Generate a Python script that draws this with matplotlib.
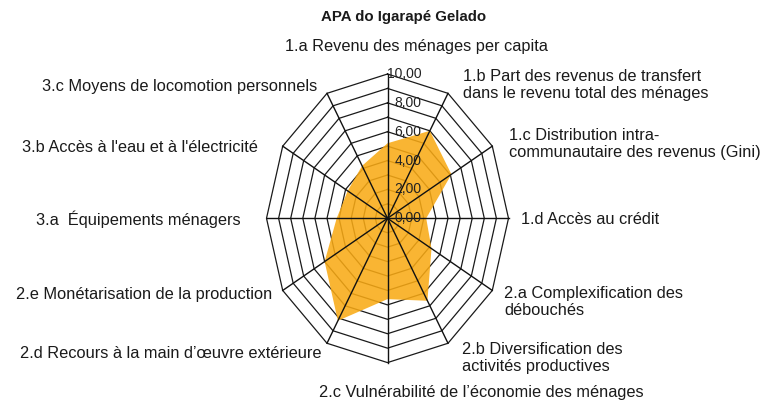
import matplotlib
matplotlib.use("Agg")
import matplotlib.pyplot as plt
import numpy as np

plt.rcParams["font.family"] = ["Liberation Sans", "DejaVu Sans"]

title = "APA do Igarapé Gelado"
labels = [
    "1.a Revenu des ménages per capita",
    "1.b Part des revenus de transfert\ndans le revenu total des ménages",
    "1.c Distribution intra-\ncommunautaire des revenus (Gini)",
    "1.d Accès au crédit",
    "2.a Complexification des\ndébouchés",
    "2.b Diversification des\nactivités productives",
    "2.c Vulnérabilité de l’économie des ménages",
    "2.d Recours à la main d’œuvre extérieure",
    "2.e Monétarisation de la production",
    "3.a  Équipements ménagers",
    "3.b Accès à l'eau et à l'électricité",
    "3.c Moyens de locomotion personnels",
]
values = [5.2, 7.0, 6.1, 3.2, 4.2, 6.6, 5.6, 8.2, 6.0, 4.2, 3.8, 4.2]
ticks = [0, 2, 4, 6, 8, 10]
rmax = 10

# label placement in pixels (x, y from top-left, horizontal alignment)
label_pos = [
    (416, 46, "center"),
    (463, 85, "left"),
    (509, 144, "left"),
    (521, 219, "left"),
    (504, 302, "left"),
    (462, 358, "left"),
    (319, 392, "left"),
    (321, 354, "right"),
    (272, 294, "right"),
    (241, 219, "right"),
    (258, 147, "right"),
    (317, 86, "right"),
]

W, H = 764, 405
cx, cy = 387.5, 218.3      # centre in pixels
sx, sy = 12.1, 14.43       # pixels per unit

fig = plt.figure(figsize=(W / 100, H / 100), dpi=100)
ax = fig.add_axes([0, 0, 1, 1])
ax.set_xlim(-cx / sx, (W - cx) / sx)
ax.set_ylim(-(H - cy) / sy, cy / sy)
ax.axis("off")

n = len(values)
theta = 2 * np.pi * np.arange(n) / n
ux, uy = np.sin(theta), np.cos(theta)

# rings
for k in range(1, rmax + 1):
    ax.plot(np.append(ux, ux[0]) * k, np.append(uy, uy[0]) * k,
            color="#1a1a1a", lw=0.9, zorder=1)

# series
v = np.array(values)
ax.fill(ux * v, uy * v, color=(249 / 255, 170 / 255, 20 / 255), alpha=0.87,
        lw=0, zorder=2)

# spokes
for x, y in zip(ux, uy):
    ax.plot([0, x * rmax], [0, y * rmax], color="#111111", lw=1.0, zorder=3)

# radial tick labels
for t in ticks:
    ax.text(34 / sx, t, f"{t:.2f}".replace(".", ","), ha="right", va="center",
            fontsize=10, color="#222222", zorder=4)

for lab, (x, y, ha) in zip(labels, label_pos):
    fig.text(x / W, 1 - y / H, lab, ha=ha, va="center", fontsize=11.8,
             linespacing=1.12, color="#1a1a1a")

fig.text(404 / W, 1 - 17 / H, title, ha="center", va="center",
         fontsize=10.8, fontweight="bold", color="#1a1a1a")

fig.savefig("out.png", dpi=100)
